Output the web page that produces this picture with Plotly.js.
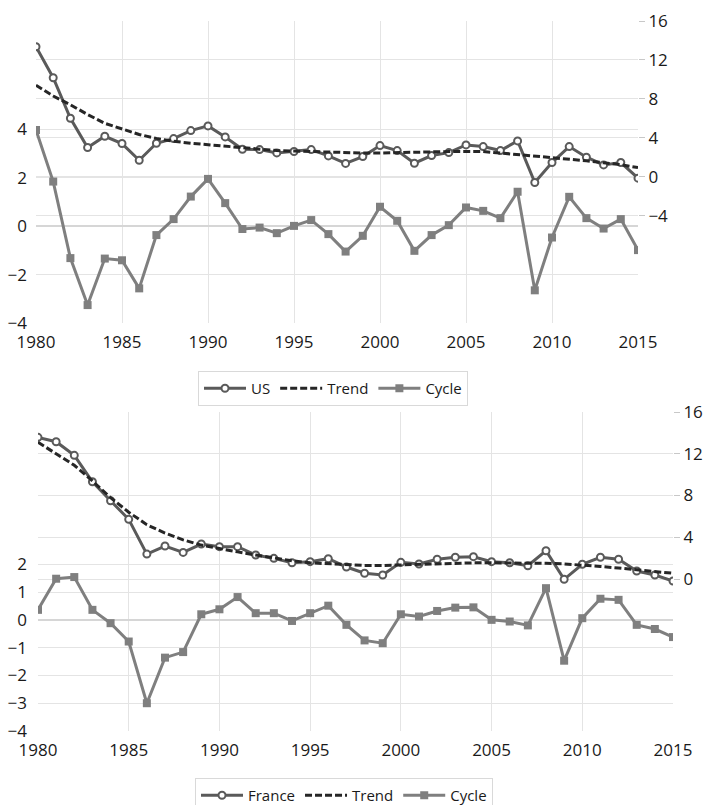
<!DOCTYPE html>
<html>
<head>
<meta charset="utf-8">
<script src="https://cdn.plot.ly/plotly-3.0.1.min.js"></script>
<style>
  html, body {margin:0; padding:0; background:#fff;}
  #plot {width:707px; height:805px;}
</style>
</head>
<body>
<div id="plot"></div>
<script>
////////// DATA ///////////////

let years = [1980,1981,1982,1983,1984,1985,1986,1987,1988,1989,1990,1991,1992,1993,1994,1995,1996,1997,
             1998,1999,2000,2001,2002,2003,2004,2005,2006,2007,2008,2009,2010,2011,2012,2013,2014,2015]

// US panel (rate + trend on the right axis, cycle on the left)
let usRate = [13.36,10.18,6.02,3.01,4.17,3.42,1.71,3.45,3.93,4.75,5.23,4.10,2.84,2.80,2.46,2.60,2.80,2.15,
              1.38,2.08,3.21,2.70,1.40,2.19,2.49,3.28,3.11,2.70,3.69,-0.58,1.47,3.11,2.02,1.23,1.47,-0.13]
let usTrend = [9.4,8.3,7.4,6.4,5.5,4.9,4.35,3.95,3.65,3.45,3.3,3.1,2.95,2.8,2.7,2.65,2.6,2.5,
               2.45,2.45,2.45,2.5,2.5,2.55,2.6,2.6,2.6,2.45,2.3,2.1,1.95,1.8,1.65,1.45,1.25,0.95]
let usCycle = [3.97,1.84,-1.32,-3.26,-1.34,-1.41,-2.57,-0.37,0.29,1.22,1.95,0.95,-0.12,-0.06,-0.29,0.01,0.25,-0.33,
               -1.05,-0.40,0.80,0.22,-1.02,-0.37,0.04,0.77,0.63,0.33,1.42,-2.65,-0.47,1.21,0.33,-0.10,0.29,-0.99]

// France panel
let frRate = [13.57,13.15,11.85,9.32,7.50,5.72,2.39,3.16,2.55,3.35,3.10,3.10,2.30,1.98,1.56,1.66,1.95,1.15,
              0.55,0.38,1.60,1.44,1.89,2.08,2.14,1.66,1.56,1.27,2.71,-0.03,1.41,2.08,1.89,0.77,0.38,-0.19]
let frTrend = [13.1,12.0,10.9,9.4,7.8,6.4,5.2,4.4,3.75,3.25,2.9,2.6,2.3,2.0,1.75,1.55,1.45,1.35,
               1.3,1.3,1.35,1.4,1.5,1.55,1.55,1.55,1.55,1.55,1.5,1.45,1.35,1.2,1.05,0.9,0.7,0.55]
let frCycle = [0.36,1.48,1.54,0.36,-0.12,-0.78,-3.0,-1.36,-1.16,0.2,0.38,0.82,0.24,0.24,-0.04,0.24,0.51,-0.18,
               -0.74,-0.84,0.2,0.12,0.32,0.44,0.45,0.0,-0.06,-0.2,1.14,-1.47,0.06,0.76,0.72,-0.18,-0.33,-0.62]

// tick labels
let xTicks = [1980,1985,1990,1995,2000,2005,2010,2015]
let usLeftTicks = [-4,-2,0,2,4]
let usRightTicks = [-4,0,4,8,12,16]
let frLeftTicks = [-4,-3,-2,-1,0,1,2]
let frRightTicks = [0,4,8,12,16]

////////// STYLE ///////////////

let W = 707, H = 805
let fontFam = '"Open Sans", "Liberation Sans", Arial, sans-serif'
let txt = '#1a1a1a'
let grid = '#e4e4e4'
let rateColor = '#5a5a5a'
let trendColor = '#262626'
let cycleColor = '#7f7f7f'

function px(x){ return x / W }
function py(y){ return 1 - y / H }

function rateTrace(y, name, xa, ya, leg){
  return {x: years, y: y, type:'scatter', mode:'lines+markers', name:name,
          xaxis:xa, yaxis:ya, legend:leg,
          line:{color:rateColor, width:3},
          marker:{symbol:'circle', size:7, color:'#ffffff', line:{color:rateColor, width:2}}}
}
function trendTrace(y, xa, ya, leg){
  return {x: years, y: y, type:'scatter', mode:'lines', name:'Trend',
          xaxis:xa, yaxis:ya, legend:leg,
          line:{color:trendColor, width:3, dash:'7px,3px'}}
}
function cycleTrace(y, xa, ya, leg){
  return {x: years, y: y, type:'scatter', mode:'lines+markers', name:'Cycle',
          xaxis:xa, yaxis:ya, legend:leg,
          line:{color:cycleColor, width:3},
          marker:{symbol:'square', size:8, color:cycleColor}}
}

let data = [
  cycleTrace(usCycle, 'x', 'y', 'legend'),
  rateTrace(usRate, 'US', 'x', 'y2', 'legend'),
  trendTrace(usTrend, 'x', 'y2', 'legend'),
  cycleTrace(frCycle, 'x2', 'y3', 'legend2'),
  rateTrace(frRate, 'France', 'x2', 'y4', 'legend2'),
  trendTrace(frTrend, 'x2', 'y4', 'legend2')
]
// legend order: country, Trend, Cycle
data[0].legendrank = 3; data[1].legendrank = 1; data[2].legendrank = 2
data[3].legendrank = 3; data[4].legendrank = 1; data[5].legendrank = 2

function xAxis(domain, anchor, standoff){
  return {domain:domain, anchor:anchor, range:[1980,2015], tickvals:xTicks,
          showgrid:true, gridcolor:grid, gridwidth:1, zeroline:false, showline:false,
          ticks:'', ticklabelstandoff:standoff, tickfont:{size:17, color:txt}}
}
function leftAxis(domain, range, ticks){
  return {domain:domain, range:range, tickvals:ticks, showgrid:true, gridcolor:grid,
          zeroline:true, zerolinecolor:'#d6d6d6', zerolinewidth:2, showline:false,
          ticks:'', ticklabelstandoff:8, tickfont:{size:17, color:txt}}
}
function rightAxis(over, anchor, range, ticks){
  return {overlaying:over, anchor:anchor, side:'right', range:range, tickvals:ticks,
          showgrid:true, gridcolor:grid, zeroline:false, showline:false,
          ticks:'outside', ticklen:6, tickcolor:'#c8c8c8', tickfont:{size:17, color:txt}}
}

let legendBase = {orientation:'h', xanchor:'left', yanchor:'top', bgcolor:'#ffffff',
                  bordercolor:'#d9d9d9', borderwidth:1, font:{size:15, color:txt},
                  itemwidth:42, traceorder:'normal', xref:'container', yref:'container'}

let layout = {
  width:W, height:H,
  margin:{l:0, r:0, t:0, b:0, autoexpand:false},
  paper_bgcolor:'#ffffff', plot_bgcolor:'#ffffff',
  font:{family:fontFam, color:txt},
  xaxis: xAxis([px(36), px(638)], 'y', 7),
  yaxis: leftAxis([py(323), py(21)], [-4, 8.47], usLeftTicks),
  yaxis2: rightAxis('y', 'x', [-15, 16], usRightTicks),
  xaxis2: xAxis([px(38), px(673)], 'y3', 7),
  yaxis3: leftAxis([py(731), py(412)], [-4, 7.48], frLeftTicks),
  yaxis4: rightAxis('y3', 'x2', [-14.56, 16], frRightTicks),
  legend: Object.assign({}, legendBase, {x:px(198), y:py(371)}),
  legend2: Object.assign({}, legendBase, {x:px(195), y:py(778)}),
  showlegend:true
}

Plotly.newPlot('plot', data, layout, {staticPlot:true})
</script>
</body>
</html>
